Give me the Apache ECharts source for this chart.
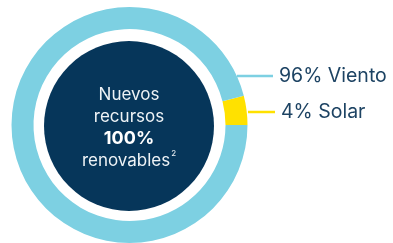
<!DOCTYPE html>
<html>
<head>
<meta charset="utf-8">
<script src="https://cdn.jsdelivr.net/npm/echarts@6/dist/echarts.min.js"></script>
<style>
  html, body { margin: 0; padding: 0; background: #fff; }
  #main { width: 393px; height: 243px; }
</style>
</head>
<body>
<div id="main"></div>
<script>
// fuentes de energía
var category = ['Solar', 'Viento'];
var values = [4, 96];
var colors = ['#FFE100', '#7DD0E2'];
// texto central
var centerLines = ['Nuevos', 'recursos', '100%', 'renovables'];

var myChart = echarts.init(document.getElementById('main'));

var pieData = [];
for (var i = 0; i < category.length; i++) {
  pieData.push({
    value: values[i],
    name: category[i],
    itemStyle: { color: colors[i] }
  });
}

// posiciones de las etiquetas (x del texto, y, inicio de la línea)
var labelPos = [
  { x: 281, y: 112, lineStart: 248 },
  { x: 279, y: 76, lineStart: 237 }
];

var option = {
  animation: false,
  series: [
    {
      type: 'pie',
      center: [129.5, 125],
      radius: [96, 118],
      startAngle: 360 * values[0] / 100,
      clockwise: true,
      silent: true,
      avoidLabelOverlap: false,
      data: pieData,
      label: {
        show: true,
        overflow: 'none',
        formatter: function (p) { return p.value + '% ' + p.name; },
        color: '#1D4363',
        fontFamily: 'Inter',
        fontSize: 19.5
      },
      labelLine: {
        show: true,
        lineStyle: { width: 2.5 }
      },
      labelLayout: function (params) {
        var pos = labelPos[params.dataIndex];
        return {
          x: pos.x,
          y: pos.y,
          align: 'left',
          verticalAlign: 'middle',
          hideOverlap: false,
          moveOverlap: null,
          labelLinePoints: [[pos.lineStart, pos.y], [pos.x - 6, pos.y], [pos.x - 6, pos.y]]
        };
      }
    },
    {
      type: 'pie',
      center: [129, 126],
      radius: [0, 85],
      silent: true,
      data: [{ value: 100, name: 'centro', itemStyle: { color: '#06365A' } }],
      label: {
        show: true,
        position: 'center',
        padding: [3, 0, 0, 0],
        formatter: centerLines[0] + '\n' + centerLines[1] + '\n{b|' + centerLines[2] + '}\n' + centerLines[3] + '{s|2}',
        color: '#EEF3F6',
        fontFamily: 'Inter',
        fontSize: 17,
        lineHeight: 22,
        rich: {
          b: { fontWeight: 'bold', fontSize: 18, color: '#FFFFFF', lineHeight: 22 },
          s: { fontSize: 8, color: '#EEF3F6', verticalAlign: 'top', lineHeight: 22, padding: [0, 0, 7, 1] }
        }
      },
      labelLine: { show: false }
    }
  ]
};

myChart.setOption(option);
</script>
</body>
</html>
